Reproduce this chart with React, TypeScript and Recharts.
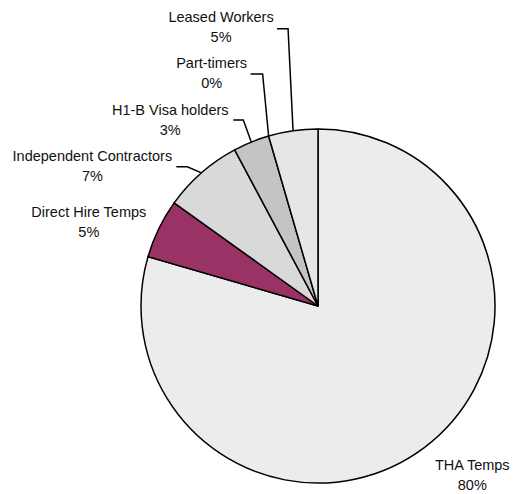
import React from "react";
import { PieChart, Pie, Cell } from "recharts";

const categories = [
  "THA Temps",
  "Direct Hire Temps",
  "Independent Contractors",
  "H1-B Visa holders",
  "Part-timers",
  "Leased Workers",
];
const shares = [79.5, 5.4, 7.3, 3.3, 0, 4.5];

const colors = ["#ececec", "#993366", "#d9d9d9", "#c4c4c4", "#ffffff", "#e6e6e6"];

// label placement relative to the slice edge point (text centre, leader elbow, leader end)
const labelLayout = [
  { tx: 48, ty: 27 },
  { tx: -70, ty: -7 },
  { tx: -109, ty: -7, ex: -14, ey: -6, lx: -25 },
  { tx: -81, ty: -22, ex: -8, ey: -22, lx: -18 },
  { tx: -57, ty: -63, ex: -6, ey: -62, lx: -18 },
  { tx: -72, ty: -104, ex: -5, ey: -102, lx: -16 },
];

const data = categories.map((name, i) => ({ name, value: shares[i] }));

const RAD = Math.PI / 180;

const renderLabel = (props: any) => {
  const { cx, cy, midAngle, outerRadius, index } = props;
  const ax = cx + outerRadius * Math.cos(-midAngle * RAD);
  const ay = cy + outerRadius * Math.sin(-midAngle * RAD);
  const l = labelLayout[index];
  const x = ax + l.tx;
  const y = ay + l.ty;
  return (
    <g key={"lbl" + index}>
      {l.ex !== undefined && (
        <polyline
          points={`${ax},${ay} ${ax + l.ex},${ay + l.ey} ${ax + l.lx},${ay + l.ey}`}
          fill="none"
          stroke="#000"
          strokeWidth={1.5}
        />
      )}
      <text
        x={x}
        y={y}
        textAnchor="middle"
        fontFamily="'Liberation Sans', Arial, sans-serif"
        fontSize={14.5}
        fill="#111"
      >
        <tspan x={x} y={y - 5}>
          {categories[index]}
        </tspan>
        <tspan x={x} y={y + 15}>
          {Math.round(shares[index]) + "%"}
        </tspan>
      </text>
    </g>
  );
};

export default function App() {
  return (
    <div style={{ position: "absolute", left: 0, top: 0, background: "#fff" }}>
      <PieChart width={515} height={494} margin={{ top: 0, right: 0, bottom: 0, left: 0 }}>
        <Pie
          data={data}
          dataKey="value"
          nameKey="name"
          cx={318}
          cy={306}
          outerRadius={177}
          startAngle={90}
          endAngle={-270}
          stroke="#000"
          strokeWidth={1.5}
          label={renderLabel}
          labelLine={false}
          isAnimationActive={false}
        >
          {data.map((d, i) => (
            <Cell key={d.name} fill={colors[i]} />
          ))}
        </Pie>
      </PieChart>
    </div>
  );
}
